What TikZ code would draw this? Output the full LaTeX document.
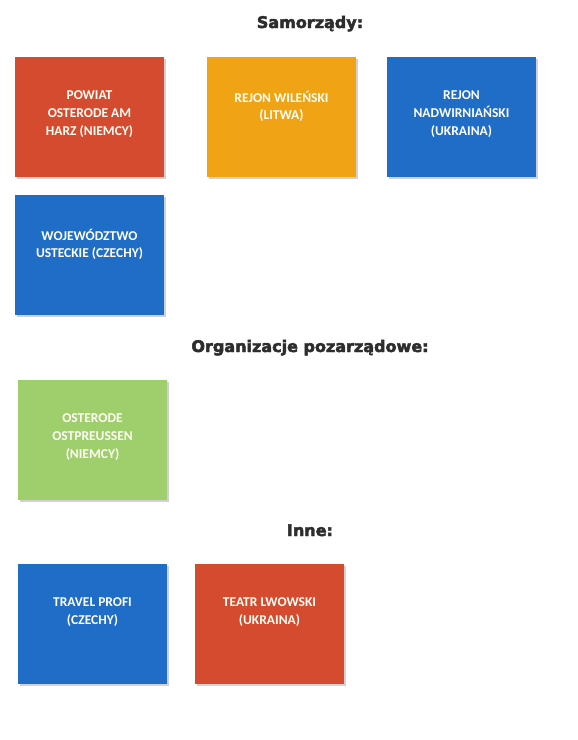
\documentclass[tikz,border=0pt]{standalone}
\usepackage{fontspec}
\setmainfont{Carlito}
\newfontfamily\headfont{DejaVu Sans}[BoldFeatures={FakeBold=3}]
\usetikzlibrary{positioning}
\usetikzlibrary{shadows}
\definecolor{boxred}{HTML}{D54B2F}
\definecolor{boxyellow}{HTML}{F0A314}
\definecolor{boxblue}{HTML}{1F6DC6}
\definecolor{boxgreen}{HTML}{9ECF6C}
\definecolor{headgray}{HTML}{2D2D2D}
\tikzset{
    orgbox/.style = {rectangle, draw=none, anchor=north west, minimum width=149pt, minimum height=120pt, inner sep=0pt, outer sep=0pt,
        drop shadow={shadow xshift=1.5pt, shadow yshift=-1.5pt, opacity=0.18, fill=black}},
    orgtext/.style = {anchor=north, yshift=-33.5pt, inner sep=0pt, align=center, text=white!96!yellow, font=\bfseries\fontsize{13.5}{17.8}\selectfont},
    headline/.style = {anchor=base, text=headgray, font=\headfont\bfseries\fontsize{16}{18}\selectfont}
}
\begin{document}
\begin{tikzpicture}[x=1pt, y=-1pt]
  \useasboundingbox (0,0) rectangle (578,740);
  % Samorzady
  \node[headline] (samorzady) at (310,28) {Samorządy:};
  \node[orgbox, fill=boxred, label={[orgtext]north:POWIAT\\OSTERODE AM\\HARZ (NIEMCY)}] (powiat) at (15,57) {};
  \node[orgbox, fill=boxyellow, right=43pt of powiat, label={[orgtext]north:REJON WILEŃSKI\\(LITWA)}] (wilenski) {};
  \node[orgbox, fill=boxblue, right=31pt of wilenski, label={[orgtext]north:REJON\\NADWIRNIAŃSKI\\(UKRAINA)}] (nadwirnianski) {};
  \node[orgbox, fill=boxblue, below=18pt of powiat, label={[orgtext]north:WOJEWÓDZTWO\\USTECKIE (CZECHY)}] (ustecke) {};
  % Organizacje pozarzadowe
  \node[headline] (organizacje) at (310,352) {Organizacje pozarządowe:};
  \node[orgbox, fill=boxgreen, label={[orgtext]north:OSTERODE\\OSTPREUSSEN\\(NIEMCY)}] (ostpreussen) at (18,380) {};
  % Inne
  \node[headline] (inne) at (310,536) {Inne:};
  \node[orgbox, fill=boxblue, label={[orgtext]north:TRAVEL PROFI\\(CZECHY)}] (travel) at (18,564) {};
  \node[orgbox, fill=boxred, right=28pt of travel, label={[orgtext]north:TEATR LWOWSKI\\(UKRAINA)}] (teatr) {};
\end{tikzpicture}
\end{document}
